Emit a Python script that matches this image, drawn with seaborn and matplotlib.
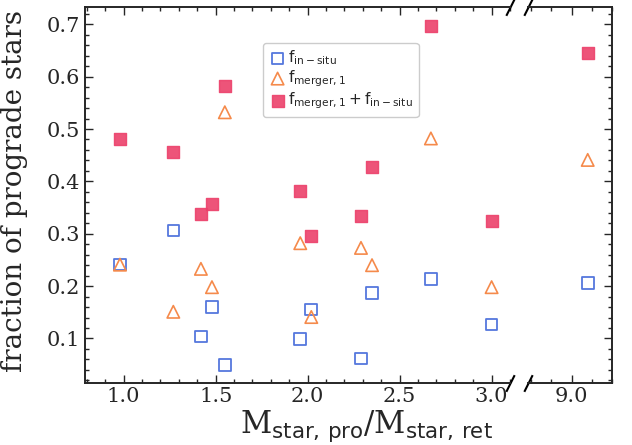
import numpy as np
import pandas as pd
import seaborn as sns
import matplotlib.pyplot as plt
from matplotlib.ticker import MultipleLocator, FormatStrFormatter

# mass ratio M_star,pro / M_star,ret
ratio = [0.98, 1.27, 1.42, 1.48, 1.55, 1.96, 2.02, 2.29, 2.35, 2.67, 3.00, 9.08]
# prograde fractions
f_insitu = [0.241, 0.306, 0.104, 0.160, 0.049, 0.099, 0.155, 0.062, 0.187, 0.214, 0.127, 0.206]
f_merger = [0.241, 0.151, 0.233, 0.198, 0.532, 0.282, 0.141, 0.273, 0.240, 0.482, 0.198, 0.441]
f_total = [0.481, 0.457, 0.337, 0.357, 0.582, 0.381, 0.295, 0.334, 0.427, 0.697, 0.324, 0.646]

df = pd.DataFrame({'ratio': ratio, 'insitu': f_insitu, 'merger': f_merger, 'total': f_total})

sns.set_style('ticks')
plt.rcParams['font.family'] = 'serif'
plt.rcParams['mathtext.fontset'] = 'dejavusans'
plt.rcParams['xtick.direction'] = 'in'
plt.rcParams['ytick.direction'] = 'in'

fig, (ax1, ax2) = plt.subplots(1, 2, sharey=True, figsize=(6.32, 4.45), dpi=100,
                               gridspec_kw={'width_ratios': [425, 84]})
fig.subplots_adjust(left=85 / 632, right=612 / 632, top=1 - 7 / 445, bottom=1 - 383 / 445,
                    wspace=0.0707)

c_insitu = '#5577dd'
c_merger = '#f58a4b'
c_total = '#ec416b'

for ax in (ax1, ax2):
    sns.scatterplot(data=df, x='ratio', y='insitu', marker='s', s=70, facecolor='none',
                    edgecolor=c_insitu, color=c_insitu, linewidth=1.3, ax=ax,
                    label=r'$\rm f_{in-situ}$')
    sns.scatterplot(data=df, x='ratio', y='merger', marker='^', s=80, facecolor='none',
                    edgecolor=c_merger, color=c_merger, linewidth=1.2, ax=ax,
                    label=r'$\rm f_{merger,1}$')
    sns.scatterplot(data=df, x='ratio', y='total', marker='s', s=85, color=c_total,
                    edgecolor=c_total, linewidth=1.0, alpha=0.9, ax=ax,
                    label=r'$\rm f_{merger,1}+f_{in-situ}$')
    ax.set_xlabel('')
    ax.set_ylabel('')
    ax.tick_params(which='both', top=True, labelsize=15, width=1.0)
    ax.tick_params(which='major', length=6)
    ax.tick_params(which='minor', length=3)
    ax.tick_params(axis='x', pad=3)
    ax.xaxis.set_minor_locator(MultipleLocator(0.1))
    ax.xaxis.set_major_formatter(FormatStrFormatter('%.1f'))
    for sp in ax.spines.values():
        sp.set_linewidth(1.4)

ax1.set_xlim(0.79, 3.1)
ax2.set_xlim(8.785, 9.2)
ax1.set_ylim(0.015, 0.733)
ax1.xaxis.set_major_locator(MultipleLocator(0.5))
ax2.xaxis.set_major_locator(MultipleLocator(1.0))
ax1.yaxis.set_major_locator(MultipleLocator(0.1))
ax1.yaxis.set_minor_locator(MultipleLocator(0.02))
ax1.yaxis.set_major_formatter(FormatStrFormatter('%.1f'))

ax1.spines['right'].set_visible(False)
ax2.spines['left'].set_visible(False)
ax1.tick_params(which='both', right=False)
ax2.tick_params(which='both', left=False, right=True, labelleft=False)

ax2.get_legend().remove()
ax1.legend(loc='upper left', bbox_to_anchor=(0.419, 0.904), borderaxespad=0,
           fontsize=11, handletextpad=0.1, handlelength=1.2, borderpad=0.35,
           labelspacing=0.1, framealpha=1)

# break marks
kw = dict(marker=[(-0.5, -1), (0.5, 1)], markersize=12, linestyle='none',
          color='k', mec='k', mew=1.5, clip_on=False)
ax1.plot([1, 1], [0, 1], transform=ax1.transAxes, **kw)
ax2.plot([0, 0], [0, 1], transform=ax2.transAxes, **kw)

ax1.set_ylabel('fraction of prograde stars', fontsize=20)
ax1.yaxis.set_label_coords(-0.135, 0.51)
fig.text(366 / 632, 1 - 433 / 445, r'M$_{\rm star,\,pro}$/M$_{\rm star,\,ret}$', fontsize=22,
         ha='center', va='baseline')

fig.savefig('out.png', dpi=100)
